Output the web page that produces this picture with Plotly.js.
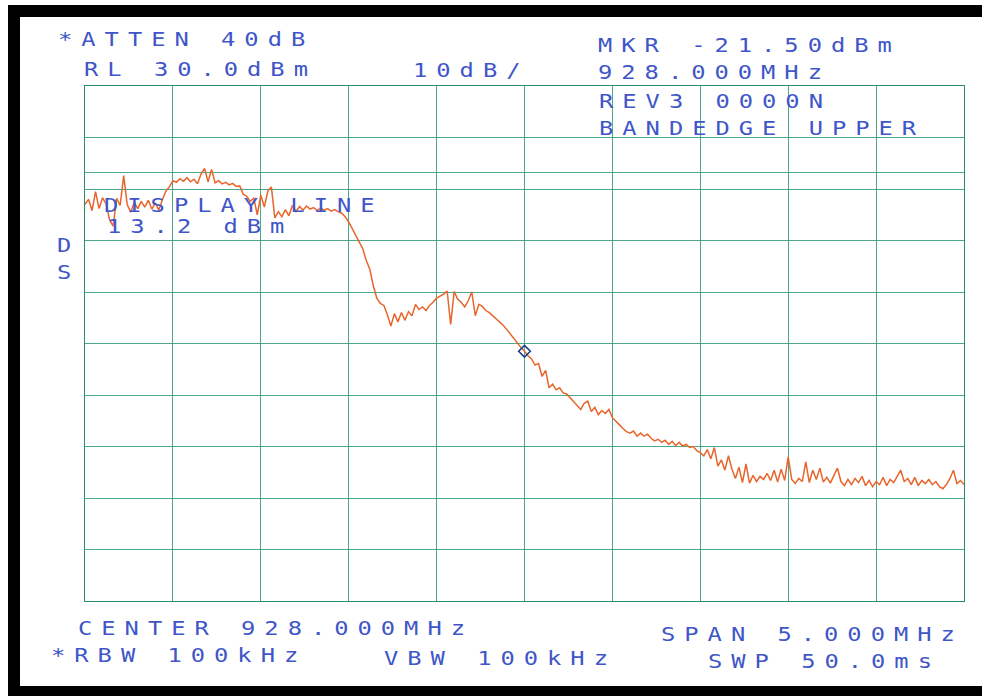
<!DOCTYPE html>
<html>
<head>
<meta charset="utf-8">
<script src="https://cdn.plot.ly/plotly-3.0.1.min.js"></script>
<style>
  html, body { margin:0; padding:0; background:#fff; }
  #frame { position:absolute; left:8px; top:5px; width:974px; height:691px; background:#000; }
  #paper { position:absolute; left:20px; top:17px; width:962px; height:669px; background:#fff; }
  #chart { position:absolute; left:0; top:0; width:982px; height:696px; }
  .annotation-text { letter-spacing:7.2px; }
</style>
</head>
<body>
<div id="frame"></div>
<div id="paper"></div>
<div id="chart"></div>
<script>
// Sweep frequencies (MHz)
const freq = [
925.50,925.52,925.54,925.56,925.58,925.60,925.62,925.64,925.66,925.68,
925.70,925.72,925.74,925.76,925.78,925.80,925.82,925.84,925.86,925.88,
925.90,925.92,925.94,925.96,925.98,926.00,926.02,926.04,926.06,926.08,
926.10,926.12,926.14,926.16,926.18,926.20,926.22,926.24,926.26,926.28,
926.30,926.32,926.34,926.36,926.38,926.40,926.42,926.44,926.46,926.48,
926.50,926.52,926.54,926.56,926.58,926.60,926.62,926.64,926.66,926.68,
926.70,926.72,926.74,926.76,926.78,926.80,926.82,926.84,926.86,926.88,
926.90,926.92,926.94,926.96,926.98,927.00,927.02,927.04,927.06,927.08,
927.10,927.12,927.14,927.16,927.18,927.20,927.22,927.24,927.26,927.28,
927.30,927.32,927.34,927.36,927.38,927.40,927.42,927.44,927.46,927.48,
927.50,927.52,927.54,927.56,927.58,927.60,927.62,927.64,927.66,927.68,
927.70,927.72,927.74,927.76,927.78,927.80,927.82,927.84,927.86,927.88,
927.90,927.92,927.94,927.96,927.98,928.00,928.02,928.04,928.06,928.08,
928.10,928.12,928.14,928.16,928.18,928.20,928.22,928.24,928.26,928.28,
928.30,928.32,928.34,928.36,928.38,928.40,928.42,928.44,928.46,928.48,
928.50,928.52,928.54,928.56,928.58,928.60,928.62,928.64,928.66,928.68,
928.70,928.72,928.74,928.76,928.78,928.80,928.82,928.84,928.86,928.88,
928.90,928.92,928.94,928.96,928.98,929.00,929.02,929.04,929.06,929.08,
929.10,929.12,929.14,929.16,929.18,929.20,929.22,929.24,929.26,929.28,
929.30,929.32,929.34,929.36,929.38,929.40,929.42,929.44,929.46,929.48,
929.50,929.52,929.54,929.56,929.58,929.60,929.62,929.64,929.66,929.68,
929.70,929.72,929.74,929.76,929.78,929.80,929.82,929.84,929.86,929.88,
929.90,929.92,929.94,929.96,929.98,930.00,930.02,930.04,930.06,930.08,
930.10,930.12,930.14,930.16,930.18,930.20,930.22,930.24,930.26,930.28,
930.30,930.32,930.34,930.36,930.38,930.40,930.42,930.44,930.46,930.48,
930.50
];
// Trace level (dBm)
const level = [
7.0,8.0,5.8,9.5,6.2,8.3,7.1,4.0,2.8,8.2,
6.8,12.6,7.0,5.5,7.4,6.2,7.6,6.5,7.8,6.1,
7.3,5.9,7.9,9.6,10.4,11.6,11.3,12.0,11.5,12.2,
11.4,11.9,11.0,12.9,14.0,11.4,13.8,11.2,11.6,11.0,
11.3,10.8,11.1,10.5,10.6,9.0,8.6,7.6,8.2,5.0,
8.8,6.5,9.6,10.4,4.4,5.6,4.6,6.0,4.8,6.8,
5.6,6.6,5.9,6.7,6.1,6.4,5.8,6.3,5.9,6.2,
5.7,6.0,5.6,5.3,4.6,3.6,2.3,1.0,0.0,-1.6,
-3.9,-5.6,-8.8,-11.2,-12.2,-12.6,-14.4,-16.6,-14.2,-15.8,
-14.0,-15.5,-13.8,-14.6,-12.4,-13.4,-12.9,-13.6,-12.6,-12.0,
-11.2,-10.8,-10.4,-9.8,-16.3,-9.9,-11.4,-12.0,-12.9,-11.7,
-10.0,-14.6,-12.4,-12.8,-13.6,-14.0,-14.6,-15.2,-15.9,-16.5,
-17.3,-18.2,-18.9,-19.8,-20.8,-21.5,-22.4,-23.0,-24.2,-23.9,
-26.4,-25.2,-28.6,-27.9,-29.0,-28.6,-29.6,-29.8,-30.6,-31.4,
-32.2,-32.8,-31.6,-31.2,-33.2,-32.4,-33.8,-33.0,-33.6,-32.8,
-34.4,-35.2,-35.8,-36.5,-37.1,-37.4,-37.0,-38.0,-37.4,-38.0,
-37.6,-38.4,-38.9,-38.6,-39.2,-38.8,-39.6,-39.0,-39.8,-39.2,
-39.9,-39.6,-40.2,-40.0,-40.8,-41.2,-41.8,-40.6,-42.4,-40.2,
-43.8,-42.6,-44.6,-41.8,-44.4,-46.2,-44.0,-47.0,-43.4,-47.1,
-45.6,-46.8,-45.8,-46.4,-45.2,-46.6,-44.6,-46.9,-44.4,-46.6,
-42.0,-46.4,-47.2,-46.2,-46.8,-43.0,-47.0,-44.6,-46.4,-44.2,
-46.9,-46.0,-47.1,-45.6,-44.2,-46.8,-47.6,-46.4,-47.4,-46.2,
-47.0,-45.8,-47.6,-46.6,-47.8,-46.8,-47.4,-46.0,-47.6,-46.4,
-47.0,-45.8,-44.6,-46.8,-46.2,-47.4,-46.0,-47.6,-46.6,-47.2,
-46.4,-47.4,-46.8,-47.8,-48.2,-47.4,-46.2,-44.6,-47.2,-46.6,
-47.4
];
// Marker
const markerFreq = [928.000];
const markerLevel = [-21.5];
// Display line
const displayLine = 13.2;
// Axis settings (instrument)
const refLevel = 30;
const dbPerDiv = 10;
const centerFreq = 928.0;
const spanMHz = 5.0;

// Screen texts
const texts = [
  ["*ATTEN 40dB", 57, 39],
  ["RL 30.0dBm", 83, 69],
  ["10dB/", 412, 70],
  ["MKR -21.50dBm", 597, 45],
  ["928.000MHz", 597, 72],
  ["REV3 0000N", 598, 101],
  ["BANDEDGE UPPER", 598, 128],
  ["DISPLAY LINE", 103, 205],
  ["13.2 dBm", 106, 226],
  ["D", 56, 245],
  ["S", 56, 272],
  ["CENTER 928.000MHz", 77, 628],
  ["*RBW 100kHz", 50, 655],
  ["VBW 100kHz", 383, 658],
  ["SPAN 5.000MHz", 660, 634],
  ["SWP 50.0ms", 707, 661]
];

const L = 85, R = 18, T = 86, B = 95, W = 982, H = 696;
const pw = W - L - R, ph = H - T - B;
const gridCol = 'rgba(45,155,115,0.85)';
const textCol = '#4056c8';

const annotations = texts.map(([t, x, y]) => ({
  text: t, xref: 'paper', yref: 'paper',
  x: (x - L) / pw, y: (H - B - y) / ph,
  xanchor: 'left', yanchor: 'middle', align: 'left',
  showarrow: false, borderpad: 0,
  font: {family: 'DejaVu Sans Mono', size: 19, color: textCol}
}));

const traces = [
  {x: freq, y: level, type: 'scatter', mode: 'lines',
   line: {color: '#e8652c', width: 1.5}, hoverinfo: 'skip'},
  {x: markerFreq, y: markerLevel, type: 'scatter', mode: 'markers',
   marker: {symbol: 'diamond-open', size: 9, color: '#1f3b8f', line: {width: 1.6, color: '#1f3b8f'}}}
];

const axisCommon = {
  showgrid: true, gridcolor: gridCol, gridwidth: 1,
  zeroline: false, showticklabels: false, ticks: '',
  showline: true, mirror: true, linecolor: 'rgb(40,140,100)', linewidth: 1.3,
  fixedrange: true
};

const layout = {
  width: W, height: H,
  margin: {l: L, r: R, t: T, b: B, pad: 0},
  paper_bgcolor: 'rgba(0,0,0,0)', plot_bgcolor: 'rgba(0,0,0,0)',
  showlegend: false,
  xaxis: Object.assign({}, axisCommon, {
    range: [centerFreq - spanMHz / 2, centerFreq + spanMHz / 2],
    tick0: centerFreq - spanMHz / 2, dtick: spanMHz / 10
  }),
  yaxis: Object.assign({}, axisCommon, {
    range: [refLevel - 10 * dbPerDiv, refLevel],
    tick0: refLevel, dtick: dbPerDiv
  }),
  shapes: [
    {type: 'line', xref: 'paper', x0: 0, x1: 1, yref: 'y', y0: displayLine, y1: displayLine,
     line: {color: gridCol, width: 1}, layer: 'below'}
  ],
  annotations: annotations
};

Plotly.newPlot('chart', traces, layout, {staticPlot: true, displayModeBar: false}).then(() => {
  // widen the plotter-style glyphs horizontally, keeping each text's left edge fixed
  document.querySelectorAll('#chart .annotation-text').forEach(el => {
    const x0 = el.getBBox().x;
    el.setAttribute('transform', 'translate(' + x0 + ',0) scale(1.25,1) translate(' + (-x0) + ',0)');
  });
});
</script>
</body>
</html>
